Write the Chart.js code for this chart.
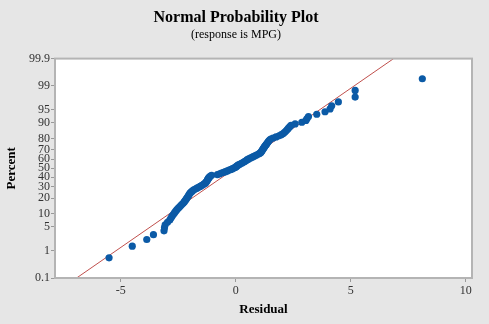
<!DOCTYPE html>
<html>
<head>
<meta charset="utf-8">
<script src="https://cdn.jsdelivr.net/npm/chart.js@4.4.0/dist/chart.umd.min.js"></script>
<style>
  html, body { margin: 0; padding: 0; background: #e6e6e6; }
  canvas { display: block; }
</style>
</head>
<body>
<canvas id="chart" width="489" height="324"></canvas>
<script>
// residuals, sorted
const residuals = [
  -5.51, -4.50, -3.87, -3.58, -3.12, -3.10, -3.07, -2.97, -2.87, -2.82,
  -2.77, -2.71, -2.66, -2.61, -2.56, -2.50, -2.44, -2.39, -2.34, -2.28,
  -2.24, -2.21, -2.17, -2.14, -2.11, -2.08, -2.05, -2.03, -2.00, -1.97,
  -1.92, -1.88, -1.83, -1.76, -1.69, -1.62, -1.55, -1.49, -1.43, -1.38,
  -1.32, -1.30, -1.27, -1.25, -1.23, -1.21, -1.19, -1.17, -1.14, -1.10,
  -1.05, -0.80, -0.70, -0.62, -0.53, -0.45, -0.37, -0.29, -0.21, -0.14,
  -0.07, -0.01, 0.03, 0.07, 0.11, 0.17, 0.23, 0.29, 0.35, 0.40,
  0.45, 0.50, 0.56, 0.63, 0.70, 0.76, 0.83, 0.90, 0.97, 1.03,
  1.08, 1.11, 1.13, 1.15, 1.18, 1.20, 1.23, 1.25, 1.28, 1.31,
  1.34, 1.37, 1.40, 1.43, 1.47, 1.52, 1.62, 1.75, 1.88, 1.98,
  2.06, 2.12, 2.18, 2.23, 2.28, 2.34, 2.40, 2.58, 2.87, 3.05,
  3.10, 3.16, 3.52, 3.88, 4.10, 4.17, 4.46, 5.19, 5.19, 8.11
];
const percentTicks = [0.1, 1, 5, 10, 20, 30, 40, 50, 60, 70, 80, 90, 95, 99, 99.9];
const residualTicks = [-5, 0, 5, 10];
// fitted normal line
const fitMean = -0.03;
const fitStDev = 2.23;

const serif = '"Liberation Serif", "Times New Roman", serif';

// inverse standard normal cdf (Acklam)
function normInv(p) {
  const a = [-3.969683028665376e+01, 2.209460984245205e+02, -2.759285104469687e+02, 1.383577518672690e+02, -3.066479806614716e+01, 2.506628277459239e+00];
  const b = [-5.447609879822406e+01, 1.615858368580409e+02, -1.556989798598866e+02, 6.680131188771972e+01, -1.328068155288572e+01];
  const c = [-7.784894002430293e-03, -3.223964580411365e-01, -2.400758277161838e+00, -2.549732539343734e+00, 4.374664141464968e+00, 2.938163982698783e+00];
  const d = [7.784695709041462e-03, 3.224671290700398e-01, 2.445134137142996e+00, 3.754408661907416e+00];
  const pLow = 0.02425;
  let q, r;
  if (p < pLow) {
    q = Math.sqrt(-2 * Math.log(p));
    return (((((c[0]*q+c[1])*q+c[2])*q+c[3])*q+c[4])*q+c[5]) / ((((d[0]*q+d[1])*q+d[2])*q+d[3])*q+1);
  }
  if (p <= 1 - pLow) {
    q = p - 0.5; r = q * q;
    return (((((a[0]*r+a[1])*r+a[2])*r+a[3])*r+a[4])*r+a[5])*q / (((((b[0]*r+b[1])*r+b[2])*r+b[3])*r+b[4])*r+1);
  }
  q = Math.sqrt(-2 * Math.log(1 - p));
  return -(((((c[0]*q+c[1])*q+c[2])*q+c[3])*q+c[4])*q+c[5]) / ((((d[0]*q+d[1])*q+d[2])*q+d[3])*q+1);
}

// plotting positions (median ranks)
const n = residuals.length;
const points = residuals.map((r, i) => ({ x: r, y: normInv((i + 1 - 0.3) / (n + 0.4)) }));

const zMin = normInv(percentTicks[0] / 100);
const zMax = normInv(percentTicks[percentTicks.length - 1] / 100);
const fitLine = [
  { x: fitMean + fitStDev * zMin, y: zMin },
  { x: fitMean + fitStDev * zMax, y: zMax }
];

const plotFrame = {
  id: "plotFrame",
  beforeDraw(chart) {
    const { ctx, chartArea: a } = chart;
    ctx.save();
    ctx.fillStyle = "#e6e6e6";
    ctx.fillRect(0, 0, chart.width, chart.height);
    ctx.fillStyle = "#ffffff";
    ctx.fillRect(a.left, a.top, a.right - a.left, a.bottom - a.top);
    ctx.restore();
  },
  afterDraw(chart) {
    const { ctx, chartArea: a } = chart;
    ctx.save();
    ctx.strokeStyle = "#b4b4b4";
    ctx.lineWidth = 2;
    ctx.strokeRect(a.left, a.top, a.right - a.left, a.bottom - a.top);
    ctx.restore();
  }
};

new Chart(document.getElementById("chart"), {
  type: "scatter",
  data: {
    datasets: [
      {
        data: points,
        backgroundColor: "#0b5aa6",
        borderWidth: 0,
        pointRadius: 3.6,
        pointHoverRadius: 3.6
      },
      {
        type: "line",
        data: fitLine,
        borderColor: "#c0504d",
        borderWidth: 1,
        pointRadius: 0,
        fill: false
      }
    ]
  },
  options: {
    responsive: false,
    animation: false,
    layout: { padding: { left: 0, right: 17, top: 0, bottom: 0 } },
    plugins: {
      legend: { display: false },
      tooltip: { enabled: false },
      title: {
        display: true,
        text: "Normal Probability Plot",
        color: "#000",
        font: { family: serif, size: 16, weight: "bold" },
        padding: { top: 8, bottom: 0 }
      },
      subtitle: {
        display: true,
        text: "(response is MPG)",
        color: "#000",
        font: { family: serif, size: 12 },
        padding: { top: 0, bottom: 17 }
      }
    },
    scales: {
      x: {
        type: "linear",
        min: -7.86,
        max: 10.27,
        afterBuildTicks: (scale) => { scale.ticks = residualTicks.map(v => ({ value: v })); },
        afterFit: (scale) => { scale.height = 46; },
        grid: { drawOnChartArea: false, drawTicks: true, tickLength: 4, color: "#999" },
        border: { display: false },
        ticks: { color: "#333", font: { family: serif, size: 12 }, padding: 2 },
        title: {
          display: true,
          text: "Residual",
          color: "#000",
          font: { family: serif, size: 13, weight: "bold" },
          padding: { top: 0, bottom: 7 }
        }
      },
      y: {
        type: "linear",
        min: zMin,
        max: zMax,
        afterBuildTicks: (scale) => { scale.ticks = percentTicks.map(p => ({ value: normInv(p / 100) })); },
        afterFit: (scale) => { scale.width = 55; },
        grid: { drawOnChartArea: false, drawTicks: true, tickLength: 4, color: "#999" },
        border: { display: false },
        ticks: {
          color: "#333",
          font: { family: serif, size: 12 },
          padding: 1,
          autoSkip: false,
          callback: (value, index) => String(percentTicks[index])
        },
        title: {
          display: true,
          text: "Percent",
          color: "#000",
          font: { family: serif, size: 13, weight: "bold" },
          padding: { top: 4, bottom: 0 }
        }
      }
    }
  },
  plugins: [plotFrame]
});
</script>
</body>
</html>
